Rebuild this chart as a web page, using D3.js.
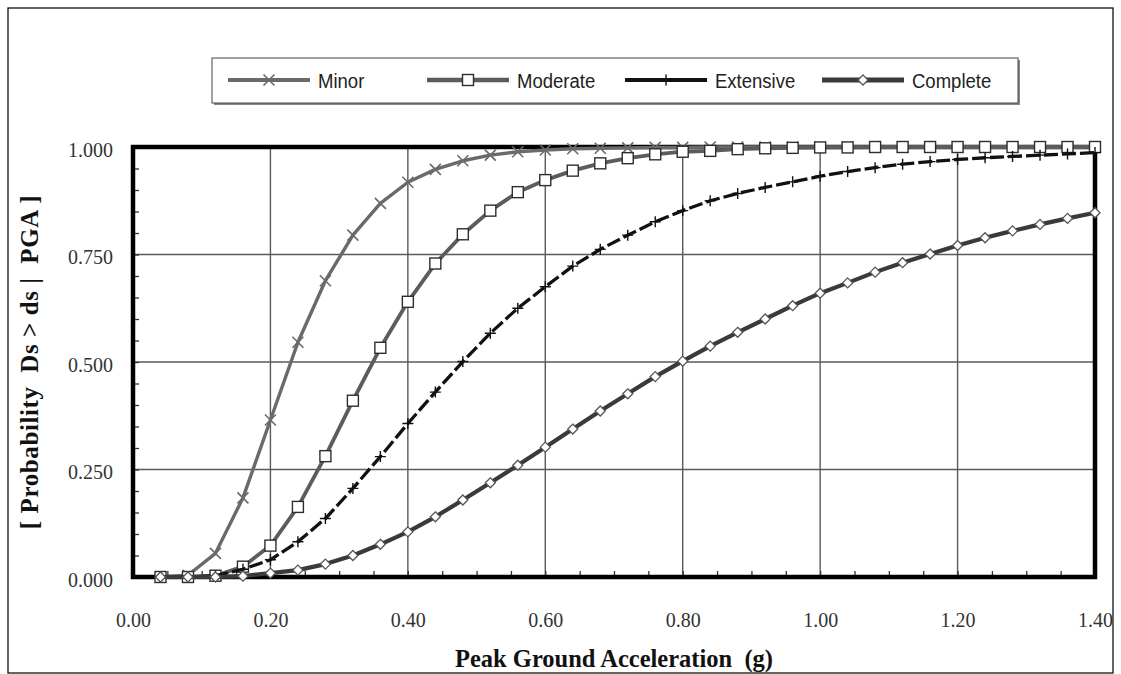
<!DOCTYPE html>
<html>
<head>
<meta charset="utf-8">
<script src="https://cdn.jsdelivr.net/npm/d3@7"></script>
<style>
  html, body { margin: 0; padding: 0; background: #fff; }
  svg { display: block; }
  text { white-space: pre; }
</style>
</head>
<body>
<svg id="chart" width="1121" height="674"></svg>
<script>
// Peak ground acceleration values (g) at which each fragility curve is evaluated
const pga = [0.04, 0.08, 0.12, 0.16, 0.20, 0.24, 0.28, 0.32, 0.36, 0.40,
             0.44, 0.48, 0.52, 0.56, 0.60, 0.64, 0.68, 0.72, 0.76, 0.80,
             0.84, 0.88, 0.92, 0.96, 1.00, 1.04, 1.08, 1.12, 1.16, 1.20,
             1.24, 1.28, 1.32, 1.36, 1.40];

// Probability of reaching or exceeding each damage state
const minor = [0.000, 0.004, 0.055, 0.184, 0.365, 0.546, 0.689, 0.795, 0.869, 0.918,
               0.948, 0.968, 0.981, 0.989, 0.993, 0.996, 0.997, 0.998, 0.999, 0.999,
               1.000, 1.000, 1.000, 1.000, 1.000, 1.000, 1.000, 1.000, 1.000, 1.000,
               1.000, 1.000, 1.000, 1.000, 1.000];
const moderate = [0.000, 0.000, 0.003, 0.024, 0.073, 0.163, 0.281, 0.410, 0.533, 0.640,
                  0.729, 0.797, 0.852, 0.895, 0.923, 0.945, 0.962, 0.974, 0.983, 0.989,
                  0.991, 0.995, 0.997, 0.998, 0.999, 0.999, 1.000, 1.000, 1.000, 1.000,
                  1.000, 1.000, 1.000, 1.000, 1.000];
const extensive = [0.000, 0.000, 0.003, 0.018, 0.040, 0.082, 0.136, 0.206, 0.280, 0.357,
                   0.430, 0.501, 0.567, 0.625, 0.675, 0.723, 0.762, 0.795, 0.826, 0.852,
                   0.875, 0.892, 0.906, 0.919, 0.932, 0.943, 0.952, 0.960, 0.966, 0.971,
                   0.975, 0.978, 0.981, 0.984, 0.987];
const complete = [0.000, 0.000, 0.000, 0.002, 0.009, 0.016, 0.030, 0.050, 0.076, 0.105,
                  0.140, 0.179, 0.219, 0.260, 0.302, 0.344, 0.386, 0.426, 0.466, 0.502,
                  0.537, 0.569, 0.600, 0.631, 0.660, 0.684, 0.709, 0.731, 0.751, 0.771,
                  0.789, 0.805, 0.820, 0.834, 0.847];

const seriesNames = ["Minor", "Moderate", "Extensive", "Complete"];
const xTickValues = [0.00, 0.20, 0.40, 0.60, 0.80, 1.00, 1.20, 1.40];
const yTickValues = [0.000, 0.250, 0.500, 0.750, 1.000];
const xTitle = "Peak Ground Acceleration  (g)";
const yTitle = "[ Probability  Ds > ds |  PGA ]";

const svg = d3.select("#chart");
const plot = { left: 133, right: 1095, top: 147, bottom: 577 };

const x = d3.scaleLinear().domain([0, 1.4]).range([plot.left, plot.right]);
const y = d3.scaleLinear().domain([0, 1]).range([plot.bottom, plot.top]);

// Outer page border
svg.append("rect")
  .attr("x", 8).attr("y", 8).attr("width", 1105).attr("height", 665)
  .attr("fill", "none").attr("stroke", "#111").attr("stroke-width", 1.3);

// Grid lines
const grid = svg.append("g").attr("stroke", "#5a5a5a").attr("stroke-width", 1.4);
grid.selectAll("line.v").data(xTickValues.slice(1, -1)).join("line")
  .attr("x1", d => x(d)).attr("x2", d => x(d))
  .attr("y1", plot.top).attr("y2", plot.bottom);
grid.selectAll("line.h").data(yTickValues.slice(1, -1)).join("line")
  .attr("x1", plot.left).attr("x2", plot.right)
  .attr("y1", d => y(d)).attr("y2", d => y(d));

// Minor tick marks pointing into the plot
const xMinor = d3.range(0, 29).map(i => i * 0.05).filter(v => v > 0 && v < 1.4);
const yMinor = d3.range(0, 21).map(i => i * 0.05).filter(v => v > 0 && v < 1);
const xMinorAxis = d3.axisBottom(x).tickValues(xMinor).tickSize(-6).tickFormat("");
const yMinorAxis = d3.axisLeft(y).tickValues(yMinor).tickSize(-6).tickFormat("");
svg.append("g").attr("transform", `translate(0,${plot.bottom})`).call(xMinorAxis)
  .call(g => g.select(".domain").remove())
  .call(g => g.selectAll("line").attr("stroke", "#333").attr("stroke-width", 1.3));
svg.append("g").attr("transform", `translate(${plot.left},0)`).call(yMinorAxis)
  .call(g => g.select(".domain").remove())
  .call(g => g.selectAll("line").attr("stroke", "#333").attr("stroke-width", 1.3));

// Heavy plot frame
svg.append("rect")
  .attr("x", plot.left).attr("y", plot.top)
  .attr("width", plot.right - plot.left).attr("height", plot.bottom - plot.top)
  .attr("fill", "none").attr("stroke", "#000").attr("stroke-width", 4.5);

// Tick labels
const xLabelAxis = d3.axisBottom(x).tickValues(xTickValues).tickSize(0).tickPadding(36)
  .tickFormat(d3.format(".2f"));
svg.append("g").attr("transform", `translate(0,${plot.bottom})`).call(xLabelAxis)
  .call(g => g.select(".domain").remove())
  .call(g => g.selectAll("text")
    .attr("font-family", "'Liberation Serif', 'Times New Roman', serif")
    .attr("font-size", 20).attr("fill", "#333"));
const yLabelAxis = d3.axisLeft(y).tickValues(yTickValues).tickSize(0).tickPadding(20)
  .tickFormat(d3.format(".3f"));
svg.append("g").attr("transform", `translate(${plot.left},0)`).call(yLabelAxis)
  .call(g => g.select(".domain").remove())
  .call(g => g.selectAll("text")
    .attr("font-family", "'Liberation Serif', 'Times New Roman', serif")
    .attr("font-size", 20).attr("fill", "#333").attr("dy", "0.45em"));

// Axis titles
svg.append("text")
  .attr("x", (plot.left + plot.right) / 2).attr("y", 667)
  .attr("text-anchor", "middle")
  .attr("font-family", "'Liberation Serif', 'Times New Roman', serif")
  .attr("font-weight", "bold").attr("font-size", 24.5).attr("fill", "#111")
  .text(xTitle);
svg.append("text")
  .attr("transform", `translate(38,${(plot.top + plot.bottom) / 2}) rotate(-90)`)
  .attr("text-anchor", "middle")
  .attr("font-family", "'Liberation Serif', 'Times New Roman', serif")
  .attr("font-weight", "bold").attr("font-size", 25).attr("fill", "#111")
  .attr("letter-spacing", 0.6)
  .text(yTitle);

// Series styles and marker shapes
const styles = {
  Minor:     { values: minor,     stroke: "#6a6a6a", width: 3.4, dash: null,   marker: "x" },
  Moderate:  { values: moderate,  stroke: "#5c5c5c", width: 3.8, dash: null,   marker: "square" },
  Extensive: { values: extensive, stroke: "#111",    width: 3.3, dash: "14,4", marker: "plus" },
  Complete:  { values: complete,  stroke: "#3a3a3a", width: 4.2, dash: null,   marker: "diamond" }
};

function drawMarker(g, type, cx, cy) {
  if (type === "x") {
    const s = 5.5;
    g.append("path").attr("d", `M${cx - s},${cy - s}L${cx + s},${cy + s}M${cx - s},${cy + s}L${cx + s},${cy - s}`)
      .attr("stroke", "#6a6a6a").attr("stroke-width", 1.6).attr("fill", "none");
  } else if (type === "square") {
    const s = 5.5;
    g.append("rect").attr("x", cx - s).attr("y", cy - s).attr("width", 2 * s).attr("height", 2 * s)
      .attr("fill", "#fff").attr("stroke", "#2e2e2e").attr("stroke-width", 1.4);
  } else if (type === "plus") {
    const s = 5.5;
    g.append("path").attr("d", `M${cx - s},${cy}L${cx + s},${cy}M${cx},${cy - s}L${cx},${cy + s}`)
      .attr("stroke", "#111").attr("stroke-width", 1.4).attr("fill", "none");
  } else if (type === "diamond") {
    const s = 5;
    g.append("path").attr("d", `M${cx},${cy - s}L${cx + s},${cy}L${cx},${cy + s}L${cx - s},${cy}Z`)
      .attr("fill", "#fff").attr("stroke", "#555").attr("stroke-width", 1.3);
  }
}

const line = d3.line().x(d => x(d[0])).y(d => y(d[1]));

seriesNames.forEach(name => {
  const st = styles[name];
  const pts = pga.map((p, i) => [p, st.values[i]]);
  const g = svg.append("g").attr("class", "series");
  g.append("path").datum(pts).attr("d", line)
    .attr("fill", "none").attr("stroke", st.stroke).attr("stroke-width", st.width)
    .attr("stroke-dasharray", st.dash).attr("stroke-linejoin", "round");
  pts.forEach(d => drawMarker(g, st.marker, x(d[0]), y(d[1])));
});

// Legend
const legend = svg.append("g");
legend.append("rect").attr("x", 214).attr("y", 60).attr("width", 806).attr("height", 45)
  .attr("fill", "#888");
legend.append("rect").attr("x", 212).attr("y", 58).attr("width", 806).attr("height", 45)
  .attr("fill", "#fff").attr("stroke", "#444").attr("stroke-width", 1);
const legendX = [228, 427, 625, 822];
seriesNames.forEach((name, i) => {
  const st = styles[name];
  const x0 = legendX[i], x1 = x0 + 82, ly = 80;
  legend.append("line").attr("x1", x0).attr("x2", x1).attr("y1", ly).attr("y2", ly)
    .attr("stroke", st.stroke).attr("stroke-width", st.width + 0.8);
  drawMarker(legend, st.marker, (x0 + x1) / 2, ly);
  legend.append("text").attr("x", x1 + 8).attr("y", ly + 8)
    .attr("font-family", "'Liberation Sans', Arial, sans-serif")
    .attr("font-size", 19.5).attr("fill", "#222")
    .attr("transform", `translate(${x1 + 8},${ly + 8}) scale(0.95,1.08) translate(${-(x1 + 8)},${-(ly + 8)})`)
    .text(name);
});
</script>
</body>
</html>
